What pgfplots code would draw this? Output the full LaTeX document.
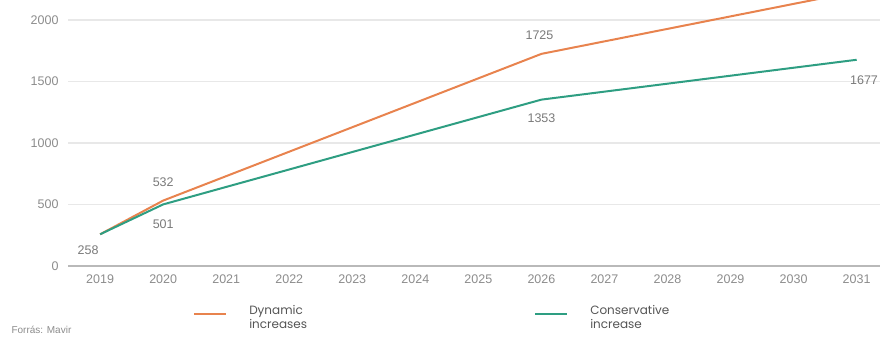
\documentclass[border=0pt]{standalone}
\usepackage{fontspec}
\setmainfont{Liberation Sans}
\newfontfamily\legfont{Poppins}
\usepackage{pgfplots}
\pgfplotsset{compat=1.18}
\definecolor{dyn}{HTML}{E8834E}
\definecolor{con}{HTML}{2E9E82}
\definecolor{tickc}{HTML}{8C8C8C}
\definecolor{labc}{HTML}{7A7A7A}
\definecolor{legc}{HTML}{555555}
\begin{document}
\begin{tikzpicture}
\path[use as bounding box] (-68pt,-74pt) rectangle (812pt,266pt);
\begin{axis}[at={(0pt,0pt)}, anchor=south west, scale only axis,
  width=812pt, height=266pt,
  xmin=2018.49, xmax=2031.37, ymin=0, ymax=2163,
  axis x line*=bottom, axis y line*=left,
  x axis line style={draw=gray!55, line width=1.2pt, -},
  y axis line style={draw=none},
  major tick length=0pt,
  ymajorgrids, grid style={draw=gray!18, line width=1.2pt},
  xtick={2019,...,2031}, ytick={0,500,1000,1500,2000},
  /pgf/number format/1000 sep={},
  /pgf/number format/assume math mode=true,
  tick label style={font=\fontsize{12.5}{12.5}\selectfont, text=tickc},
  xticklabel style={yshift=-5pt},
  yticklabel style={xshift=-6pt},
  legend columns=2,
  legend image code/.code={\draw[#1, line width=2pt] (0pt,0pt) -- (32pt,0pt);},
  legend style={draw=none, fill=none, at={(0.154,-0.18)}, anchor=west,
    inner sep=0pt, nodes={inner sep=0pt},
    font=\legfont\fontsize{12}{14}\selectfont, text=legc,
    /tikz/every odd column/.append style={column sep=22pt},
    /tikz/every even column/.append style={column sep=185pt}},
  clip=true,
]
\addplot[dyn, line width=2pt] coordinates {(2019,258) (2020,532) (2026,1725) (2031,2233)};
\addlegendentry{\parbox[c]{100pt}{Dynamic\\increases}}
\addplot[con, line width=2pt] coordinates {(2019,258) (2020,501) (2026,1353) (2031,1677)};
\addlegendentry{\parbox[c]{100pt}{Conservative\\increase}}
\begin{scope}[every node/.style={font=\fontsize{12.5}{12.5}\selectfont, text=labc}]
\node at (axis cs:2019,258) [xshift=-12pt, yshift=-16pt] {258};
\node at (axis cs:2020,532) [yshift=18pt] {532};
\node at (axis cs:2020,501) [yshift=-20pt] {501};
\node at (axis cs:2026,1725) [xshift=-2pt, yshift=19pt] {1725};
\node at (axis cs:2026,1353) [yshift=-19pt] {1353};
\end{scope}
\end{axis}
\node[font=\fontsize{12.5}{12.5}\selectfont, text=labc] at (796pt,186pt) {1677};
\node[anchor=west, font=\fontsize{10}{10}\selectfont, text=tickc] at (-60pt,-64pt) {Forrás: Mavir};
\end{tikzpicture}
\end{document}
